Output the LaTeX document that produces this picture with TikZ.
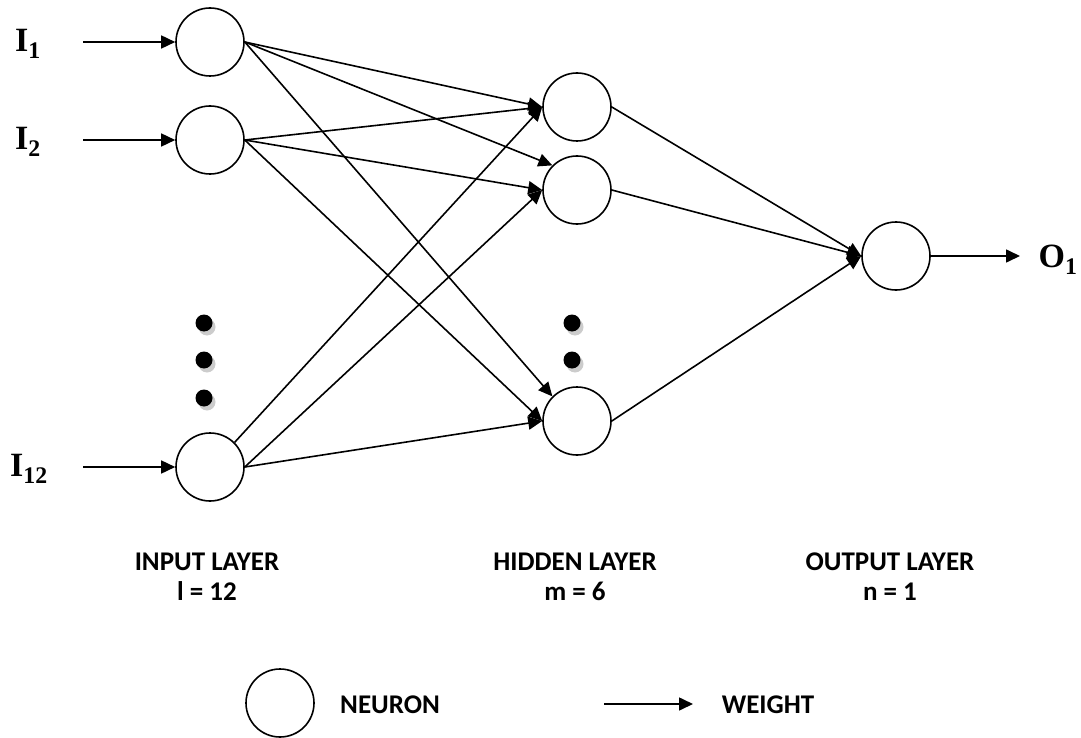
\documentclass[tikz,border=0pt]{standalone}
\usepackage{fontspec}
\setmainfont{Liberation Serif}
\newfontfamily\calibri{Carlito}
\usetikzlibrary{positioning, arrows.meta}
\tikzset{neuron/.style={draw,circle,line width=1.6pt,minimum size=68pt,inner sep=0pt},
         synapse/.style={line width=1.6pt,-{Triangle[length=14pt,width=13pt]}},
         iolabel/.style={font=\fontsize{34}{38}\selectfont\bfseries,inner sep=0pt},
         layerlabel/.style={font=\fontsize{27}{30}\selectfont\calibri\bfseries,align=center,inner sep=0pt},
        }

\begin{document}
\begin{tikzpicture}[x=1pt,y=-1pt]
        \useasboundingbox(0,0)rectangle(1081,738);
        % input layer
        \node[neuron](i1)at(210,42){};
        \node[neuron](i2)at(210,140){};
        \node[neuron](i12)at(210,467){};
        \node[iolabel](li1)at(28,44){I\textsubscript{1}};
        \node[iolabel](li2)at(28,142){I\textsubscript{2}};
        \node[iolabel](li12)at(29,469){I\textsubscript{12}};
        \coordinate(s1)at(83,42);
        \coordinate(s2)at(83,140);
        \coordinate(s12)at(83,467);
        \draw[synapse](s1)--(i1.west);
        \draw[synapse](s2)--(i2.west);
        \draw[synapse](s12)--(i12.west);

        % hidden layer
        \node[neuron](h1)at(577,107){};
        \node[neuron](h2)at(577,190){};
        \node[neuron](h3)at(577,421){};

        % output layer
        \node[neuron](o1)at(896,256){};
        \node[iolabel](lo1)at(1058,260){O\textsubscript{1}};
        \coordinate(oe)at(1020,256);
        \draw[synapse](o1.east)--(oe);

        % dots
        \foreach \x/\y in {204/323,204/360,204/398,572/323,572/360}{
            \fill[gray!40](\x+3,\y+4)circle(8.5pt);
            \fill[black](\x,\y)circle(8.5pt);
        }

        % weights
        \draw[synapse](i1.east)--(h1.west);
        \draw[synapse](i1.east)--(h2.135);
        \draw[synapse](i1.east)--(h3.135);
        \draw[synapse](i2.east)--(h1.west);
        \draw[synapse](i2.east)--(h2.west);
        \draw[synapse](i2.east)--(h3.west);
        \draw[synapse](i12.45)--(h1.west);
        \draw[synapse](i12.east)--(h2.west);
        \draw[synapse](i12.east)--(h3.west);
        \draw[synapse](h1.east)--(o1.west);
        \draw[synapse](h2.east)--(o1.west);
        \draw[synapse](h3.east)--(o1.west);

        % layer names
        \node[layerlabel](ilay)at(207,577){INPUT LAYER\\l = 12};
        \node[layerlabel](hlay)at(575,577){HIDDEN LAYER\\m = 6};
        \node[layerlabel](olay)at(890,577){OUTPUT LAYER\\n = 1};

        % legend
        \node[neuron](legn)at(280,703){};
        \node[layerlabel](legnt)at(390,705){NEURON};
        \coordinate(lw1)at(604,704);
        \coordinate(lw2)at(693,704);
        \draw[synapse](lw1)--(lw2);
        \node[layerlabel](legwt)at(768,705){WEIGHT};
\end{tikzpicture}
\end{document}
